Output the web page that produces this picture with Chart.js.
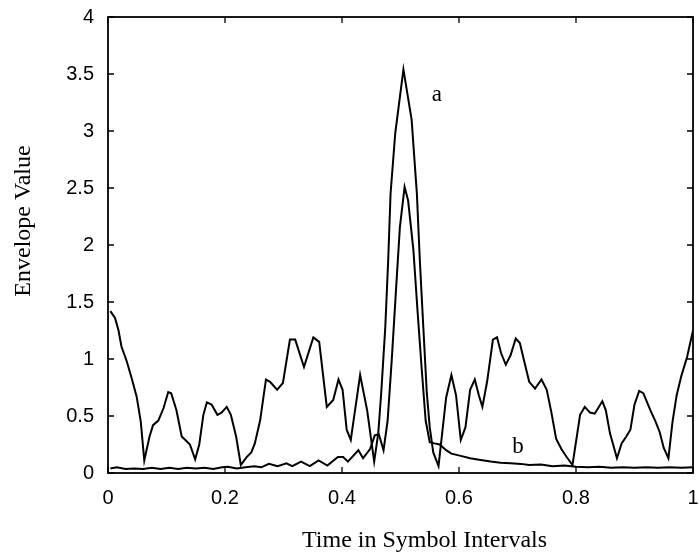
<!DOCTYPE html>
<html>
<head>
<meta charset="utf-8">
<script src="https://cdn.jsdelivr.net/npm/chart.js@4.4.1/dist/chart.umd.min.js"></script>
<style>
  html, body { margin: 0; padding: 0; background: #fff; }
  #wrap { width: 699px; height: 555px; position: relative; }
</style>
</head>
<body>
<div id="wrap"><canvas id="env-chart"></canvas></div>
<script>
// --- data ---------------------------------------------------------
const xTicks = [0, 0.2, 0.4, 0.6, 0.8, 1];
const yTicks = [0, 0.5, 1, 1.5, 2, 2.5, 3, 3.5, 4];
const xTickLabels = ['0', '0.2', '0.4', '0.6', '0.8', '1'];
const yTickLabels = ['0', '0.5', '1', '1.5', '2', '2.5', '3', '3.5', '4'];

// curve a: ripple + tall peak
const aTime = [
  0.004, 0.012, 0.018, 0.023, 0.032, 0.040, 0.049, 0.056, 0.062, 0.071,
  0.077, 0.086, 0.095, 0.103, 0.108, 0.117, 0.126, 0.134, 0.140, 0.149,
  0.156, 0.163, 0.169, 0.177, 0.187, 0.194, 0.203, 0.210, 0.219, 0.227,
  0.237, 0.245, 0.251, 0.260, 0.270, 0.277, 0.289, 0.299, 0.311, 0.320,
  0.335, 0.351, 0.361, 0.374, 0.385, 0.394, 0.401, 0.408, 0.415, 0.431,
  0.443, 0.455, 0.462, 0.467, 0.474, 0.479, 0.483, 0.491, 0.505, 0.519,
  0.528, 0.533, 0.539, 0.545, 0.550, 0.556, 0.565, 0.578, 0.587, 0.595,
  0.603, 0.611, 0.619, 0.627, 0.634, 0.640, 0.648, 0.658, 0.665, 0.672,
  0.680, 0.688, 0.697, 0.704, 0.712, 0.720, 0.730, 0.741, 0.750, 0.758,
  0.766, 0.775, 0.784, 0.794, 0.807, 0.815, 0.824, 0.832, 0.845, 0.851,
  0.858, 0.870, 0.878, 0.886, 0.893, 0.900, 0.908, 0.915, 0.928, 0.936,
  0.943, 0.950, 0.958, 0.965, 0.972, 0.980, 0.990, 1.000
];
const aValue = [
  1.42, 1.36, 1.25, 1.11, 0.98, 0.84, 0.67, 0.45, 0.11, 0.32,
  0.42, 0.46, 0.57, 0.71, 0.70, 0.55, 0.32, 0.28, 0.25, 0.12,
  0.25, 0.51, 0.62, 0.60, 0.51, 0.53, 0.58, 0.51, 0.32, 0.07,
  0.14, 0.18, 0.26, 0.46, 0.82, 0.80, 0.73, 0.79, 1.17, 1.17,
  0.93, 1.19, 1.15, 0.58, 0.64, 0.82, 0.73, 0.38, 0.29, 0.86,
  0.55, 0.10, 0.35, 0.70, 1.28, 1.87, 2.45, 2.98, 3.54, 3.10,
  2.45, 1.87, 1.28, 0.70, 0.40, 0.18, 0.06, 0.66, 0.86, 0.68,
  0.29, 0.40, 0.73, 0.82, 0.68, 0.58, 0.80, 1.17, 1.19, 1.05,
  0.95, 1.03, 1.18, 1.14, 0.97, 0.80, 0.74, 0.82, 0.73, 0.53,
  0.30, 0.21, 0.14, 0.07, 0.51, 0.58, 0.53, 0.52, 0.63, 0.55,
  0.35, 0.13, 0.26, 0.32, 0.38, 0.60, 0.72, 0.70, 0.54, 0.45,
  0.36, 0.22, 0.13, 0.45, 0.68, 0.85, 1.02, 1.25
];

// curve b: low floor + smaller peak
const bTime = [
  0.004, 0.015, 0.030, 0.045, 0.060, 0.075, 0.090, 0.105, 0.120, 0.135,
  0.150, 0.165, 0.180, 0.195, 0.205, 0.220, 0.235, 0.250, 0.262, 0.275,
  0.290, 0.305, 0.315, 0.330, 0.345, 0.360, 0.375, 0.393, 0.402, 0.410,
  0.428, 0.436, 0.448, 0.456, 0.463, 0.471, 0.478, 0.485, 0.492, 0.499,
  0.507, 0.513, 0.522, 0.529, 0.536, 0.543, 0.550, 0.558, 0.567, 0.578,
  0.587, 0.603, 0.619, 0.637, 0.654, 0.671, 0.688, 0.706, 0.720, 0.740,
  0.760, 0.780, 0.800, 0.820, 0.840, 0.860, 0.880, 0.900, 0.920, 0.940,
  0.960, 0.980, 1.000
];
const bValue = [
  0.040, 0.050, 0.035, 0.040, 0.035, 0.045, 0.035, 0.045, 0.035, 0.045,
  0.040, 0.045, 0.035, 0.050, 0.055, 0.040, 0.050, 0.060, 0.050, 0.080,
  0.060, 0.085, 0.060, 0.100, 0.060, 0.110, 0.065, 0.140, 0.140, 0.100,
  0.200, 0.130, 0.210, 0.330, 0.340, 0.200, 0.460, 0.990, 1.580, 2.160,
  2.510, 2.390, 1.960, 1.430, 0.930, 0.460, 0.270, 0.260, 0.250, 0.200,
  0.170, 0.150, 0.130, 0.115, 0.100, 0.090, 0.085, 0.080, 0.070, 0.075,
  0.060, 0.065, 0.055, 0.050, 0.055, 0.045, 0.050, 0.045, 0.050, 0.045,
  0.050, 0.045, 0.050
];

// curve labels placed in data coordinates
const curveNotes = [
  { text: 'a', x: 0.562, y: 3.32 },
  { text: 'b', x: 0.701, y: 0.23 }
];

const toPoints = (xs, ys) => xs.map((x, i) => ({ x, y: ys[i] }));

// MATLAB-ish box with inward ticks, curve letters and axis titles
const boxPlugin = {
  id: 'boxPlugin',
  afterDraw(chart) {
    const { ctx, chartArea: a, scales } = chart;
    const len = 6;
    ctx.save();
    ctx.strokeStyle = '#000';
    ctx.lineWidth = 1.8;
    ctx.strokeRect(a.left, a.top, a.right - a.left, a.bottom - a.top);
    ctx.lineWidth = 1.3;
    ctx.beginPath();
    xTicks.forEach(v => {
      const px = scales.x.getPixelForValue(v);
      ctx.moveTo(px, a.bottom); ctx.lineTo(px, a.bottom - len);
      ctx.moveTo(px, a.top); ctx.lineTo(px, a.top + len);
    });
    yTicks.forEach(v => {
      const py = scales.y.getPixelForValue(v);
      ctx.moveTo(a.left, py); ctx.lineTo(a.left + len, py);
      ctx.moveTo(a.right, py); ctx.lineTo(a.right - len, py);
    });
    ctx.stroke();

    ctx.fillStyle = '#000';
    ctx.font = '23px "Liberation Serif", "Times New Roman", serif';
    ctx.textAlign = 'center';
    ctx.textBaseline = 'middle';
    curveNotes.forEach(n => {
      ctx.fillText(n.text, scales.x.getPixelForValue(n.x), scales.y.getPixelForValue(n.y));
    });

    // axis titles (sit off-centre in the original)
    ctx.font = '24px "Liberation Serif", "Times New Roman", serif';
    ctx.textBaseline = 'alphabetic';
    ctx.textAlign = 'left';
    ctx.fillText('Time in Symbol Intervals', 302, 547);
    ctx.translate(30, 221);
    ctx.rotate(-Math.PI / 2);
    ctx.textAlign = 'center';
    ctx.fillText('Envelope Value', 0, 0);
    ctx.restore();
  }
};

const lineStyle = {
  borderColor: '#000',
  borderWidth: 2,
  pointRadius: 0,
  tension: 0,
  fill: false
};

new Chart(document.getElementById('env-chart'), {
  type: 'line',
  data: {
    datasets: [
      Object.assign({ label: 'a', data: toPoints(aTime, aValue) }, lineStyle),
      Object.assign({ label: 'b', data: toPoints(bTime, bValue) }, lineStyle)
    ]
  },
  options: {
    responsive: true,
    maintainAspectRatio: false,
    animation: false,
    events: [],
    layout: { padding: { top: 17, right: 6, left: 0, bottom: 0 } },
    plugins: { legend: { display: false }, tooltip: { enabled: false } },
    scales: {
      x: {
        type: 'linear', min: 0, max: 1,
        afterBuildTicks: s => { s.ticks = xTicks.map(v => ({ value: v })); },
        afterFit: s => { s.height = 82; s.paddingLeft = 0; s.paddingRight = 0; },
        grid: { display: false, drawTicks: false },
        border: { display: false },
        ticks: {
          color: '#000', padding: 13, maxRotation: 0,
          font: { size: 20, family: '"Liberation Sans", Arial, sans-serif' },
          callback: (v, i) => xTickLabels[i]
        }
      },
      y: {
        type: 'linear', min: 0, max: 4,
        afterBuildTicks: s => { s.ticks = yTicks.map(v => ({ value: v })); },
        afterFit: s => { s.width = 108; s.paddingTop = 0; s.paddingBottom = 0; },
        grid: { display: false, drawTicks: false },
        border: { display: false },
        ticks: {
          color: '#000', padding: 14,
          font: { size: 20, family: '"Liberation Sans", Arial, sans-serif' },
          callback: (v, i) => yTickLabels[i]
        }
      }
    }
  },
  plugins: [boxPlugin]
});
</script>
</body>
</html>
